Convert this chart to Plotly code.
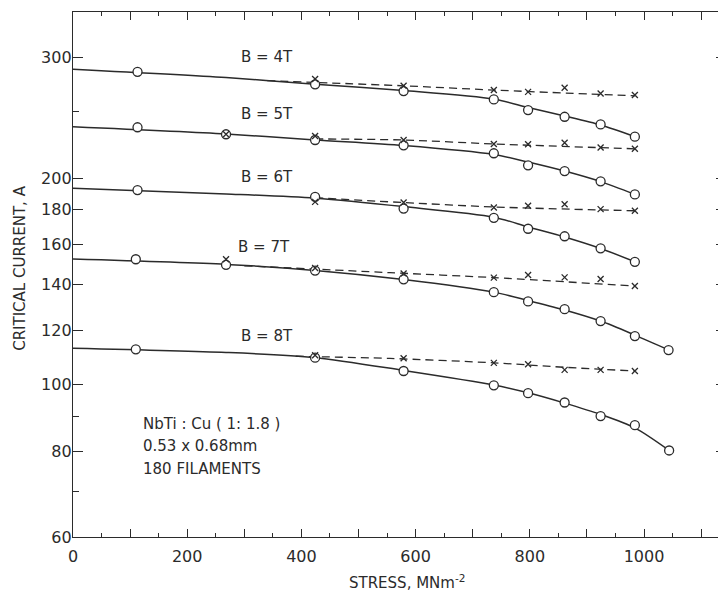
import math
import plotly.graph_objects as go

# ---------------- data ----------------
FIELDS = ["4T", "5T", "6T", "7T", "8T"]

# circles: measured points (solid curves)
B4_CIRC_X = [113, 424, 579, 737, 797, 861, 924, 984]
B4_CIRC_I = [285.6, 273.8, 267.7, 260.3, 251.2, 245.6, 239.4, 229.7]
B5_CIRC_X = [113, 268, 424, 579, 737, 797, 861, 924, 984]
B5_CIRC_I = [237.1, 231.6, 227.2, 223.2, 217.3, 208.7, 204.7, 197.8, 189.3]
B6_CIRC_X = [113, 424, 579, 737, 797, 861, 924, 984]
B6_CIRC_I = [192.1, 187.8, 180.5, 175.0, 168.7, 164.5, 158.0, 151.0]
B7_CIRC_X = [110, 268, 424, 579, 737, 797, 861, 924, 984, 1043]
B7_CIRC_I = [152.3, 149.5, 146.6, 142.4, 136.4, 132.2, 128.8, 123.8, 117.7, 112.3]
B8_CIRC_X = [110, 424, 579, 737, 797, 861, 924, 984, 1044]
B8_CIRC_I = [112.6, 109.5, 104.7, 99.8, 97.2, 94.2, 90.0, 87.3, 80.2]

# crosses: measured points (dashed curves)
B4_CROSS_X = [424, 579, 737, 797, 861, 924, 984]
B4_CROSS_I = [278.7, 272.5, 268.6, 267.0, 270.7, 265.6, 264.2]
B5_CROSS_X = [268, 424, 579, 737, 797, 861, 924, 984]
B5_CROSS_I = [231.6, 230.2, 227.2, 224.2, 224.0, 225.1, 221.6, 220.6]
B6_CROSS_X = [424, 579, 737, 797, 861, 924, 984]
B6_CROSS_I = [184.6, 184.2, 181.2, 182.2, 183.1, 180.2, 179.2]
B7_CROSS_X = [268, 424, 579, 737, 797, 861, 924, 984]
B7_CROSS_I = [152.3, 147.9, 145.2, 143.2, 144.5, 143.3, 142.5, 139.2]
B8_CROSS_X = [424, 579, 737, 797, 861, 924, 984]
B8_CROSS_I = [110.4, 109.3, 107.6, 107.1, 105.1, 105.1, 104.7]

# smooth solid curves (as drawn in the reference)
CURVE_X = [0, 268, 424, 579, 737, 797, 861, 924, 984]
CURVE_X_EXT = [0, 268, 424, 579, 737, 797, 861, 924, 984, 1044]
B4_CURVE = [288.0, 280.1, 274.0, 268.2, 260.6, 253.3, 246.2, 238.9, 229.7]
B5_CURVE = [237.5, 231.8, 227.2, 223.0, 216.4, 211.0, 204.7, 197.6, 189.3]
B6_CURVE = [193.2, 189.6, 186.9, 181.7, 175.4, 169.7, 164.1, 157.9, 151.0]
B7_CURVE = [152.4, 149.7, 146.7, 142.3, 136.4, 132.6, 128.5, 123.8, 118.1, 112.3]
B8_CURVE = [113.0, 111.4, 109.5, 104.9, 99.9, 97.3, 94.0, 90.5, 86.5, 80.2]

# dashed curves
B4_DASH_X = [340, 579, 737, 984]
B4_DASH = [277.2, 272.5, 268.6, 263.5]
B5_DASH_X = [424, 579, 737, 984]
B5_DASH = [228.0, 227.2, 224.2, 220.6]
B6_DASH_X = [424, 579, 737, 984]
B6_DASH = [187.2, 184.2, 181.5, 179.2]
B7_DASH_X = [300, 555, 737, 984]
B7_DASH = [149.0, 145.6, 143.2, 139.2]
B8_DASH_X = [390, 555, 737, 861, 984]
B8_DASH = [110.0, 109.2, 107.6, 106.0, 104.7]

# label positions
LABEL_X = [340, 340, 340, 335, 340]
LABEL_I = [300, 247.8, 200.6, 158.7, 117.7]

X_LABEL_TICKS = [0, 200, 400, 600, 800, 1000]
X_PLAIN_TICKS = [100, 300, 500, 700, 900, 1100]
Y_TICKS = [60, 80, 100, 120, 140, 160, 180, 200, 300]
Y_MINOR = [70, 90, 250]
NOTE_LINES = ["NbTi : Cu ( 1: 1.8 )", "0.53 x 0.68mm", "180 FILAMENTS"]

# ---------------- figure ----------------
INK = "#2b2b2b"
FONT = "DejaVu Sans"
fig = go.Figure()

curves = [
    (CURVE_X, B4_CURVE), (CURVE_X, B5_CURVE), (CURVE_X, B6_CURVE),
    (CURVE_X_EXT, B7_CURVE), (CURVE_X_EXT, B8_CURVE),
]
dashes = [
    (B4_DASH_X, B4_DASH), (B5_DASH_X, B5_DASH), (B6_DASH_X, B6_DASH),
    (B7_DASH_X, B7_DASH), (B8_DASH_X, B8_DASH),
]
circles = [
    (B4_CIRC_X, B4_CIRC_I), (B5_CIRC_X, B5_CIRC_I), (B6_CIRC_X, B6_CIRC_I),
    (B7_CIRC_X, B7_CIRC_I), (B8_CIRC_X, B8_CIRC_I),
]
crosses = [
    (B4_CROSS_X, B4_CROSS_I), (B5_CROSS_X, B5_CROSS_I), (B6_CROSS_X, B6_CROSS_I),
    (B7_CROSS_X, B7_CROSS_I), (B8_CROSS_X, B8_CROSS_I),
]

for xs, ys in dashes:
    fig.add_trace(go.Scatter(x=xs, y=ys, mode="lines", line_shape="spline",
                             line=dict(color=INK, width=1.3, dash="8px,5px",
                                       smoothing=0.8),
                             hoverinfo="skip"))
for xs, ys in curves:
    fig.add_trace(go.Scatter(x=xs, y=ys, mode="lines", line_shape="spline",
                             line=dict(color=INK, width=1.5, smoothing=0.8),
                             hoverinfo="skip"))
for xs, ys in circles:
    fig.add_trace(go.Scatter(x=xs, y=ys, mode="markers",
                             marker=dict(symbol="circle", size=9, color="white",
                                         line=dict(color=INK, width=1.3))))
for xs, ys in crosses:
    fig.add_trace(go.Scatter(x=xs, y=ys, mode="markers",
                             marker=dict(symbol="x-thin-open", size=6, color=INK,
                                         line=dict(color=INK, width=1.3))))

# invisible trace that activates the secondary (tick-only) axes
fig.add_trace(go.Scatter(x=[500], y=[100], xaxis="x2", yaxis="y2", mode="markers",
                         marker=dict(opacity=0), hoverinfo="skip"))

ann = []
for name, lx, li in zip(FIELDS, LABEL_X, LABEL_I):
    ann.append(dict(x=lx, y=math.log10(li), xref="x", yref="y",
                    text="B = " + name, showarrow=False,
                    font=dict(family=FONT, size=15, color=INK)))
for k, line in enumerate(NOTE_LINES):
    ann.append(dict(x=0.104, y=0.216 - k * 0.0435, xref="paper", yref="paper",
                    xanchor="left", yanchor="middle", text=line, showarrow=False,
                    font=dict(family=FONT, size=15, color=INK)))
ann.append(dict(x=-0.081, y=0.511, xref="paper", yref="paper", textangle=-90,
                text="CRITICAL CURRENT, A", showarrow=False,
                xanchor="center", yanchor="middle",
                font=dict(family=FONT, size=15, color=INK)))
ann.append(dict(x=0.511, y=-0.085, xref="paper", yref="paper",
                text="STRESS, MNm<sup>-2</sup>", showarrow=False,
                xanchor="center", yanchor="middle",
                font=dict(family=FONT, size=15, color=INK)))

xrange_ = [0, 1143.6]
yrange = [math.log10(60), math.log10(349)]
minor_x = dict(tickmode="linear", tick0=0, dtick=50, ticks="inside", ticklen=4,
               tickwidth=1.2, tickcolor=INK, showgrid=False)
minor_y = dict(tickmode="array", tickvals=Y_MINOR, ticks="inside", ticklen=6,
               tickwidth=1.2, tickcolor=INK, showgrid=False)
fig.update_layout(
    width=718, height=593,
    margin=dict(l=65, r=0, t=4, b=64, autoexpand=False),
    plot_bgcolor="white", paper_bgcolor="white",
    showlegend=False,
    font=dict(family=FONT, size=16, color=INK),
    annotations=ann,
    xaxis=dict(range=xrange_, tickmode="array", tickvals=X_LABEL_TICKS,
               ticktext=[str(v) for v in X_LABEL_TICKS], ticks="inside",
               ticklen=8, tickwidth=1.2, tickcolor=INK, minor=minor_x,
               showline=True, linecolor=INK, linewidth=1.3, mirror="ticks",
               showgrid=False, zeroline=False, automargin=False,
               ticklabelstandoff=5,
               tickfont=dict(family=FONT, size=16, color=INK)),
    xaxis2=dict(range=xrange_, overlaying="x", anchor="y", side="bottom",
                tickmode="array", tickvals=X_PLAIN_TICKS, showticklabels=False,
                ticks="inside", ticklen=8, tickwidth=1.2, tickcolor=INK,
                showline=False, mirror="ticks", showgrid=False, zeroline=False,
                automargin=False),
    yaxis=dict(type="log", range=yrange, tickmode="array", tickvals=Y_TICKS,
               ticktext=[str(v) for v in Y_TICKS], ticks="inside", ticklen=10,
               tickwidth=1.2, tickcolor=INK, automargin=False,
               ticklabelstandoff=-3, minor=minor_y,
               showline=True, linecolor=INK, linewidth=1.3, mirror=False,
               showgrid=False, zeroline=False,
               tickfont=dict(family=FONT, size=16, color=INK)),
    yaxis2=dict(type="log", range=yrange, overlaying="y", side="right",
                anchor="x", tickmode="array", tickvals=Y_TICKS,
                showticklabels=False, ticks="inside", ticklen=10, tickwidth=1.2,
                tickcolor=INK, automargin=False, minor=minor_y,
                showline=False, showgrid=False, zeroline=False),
)

fig.write_html("out.html")
